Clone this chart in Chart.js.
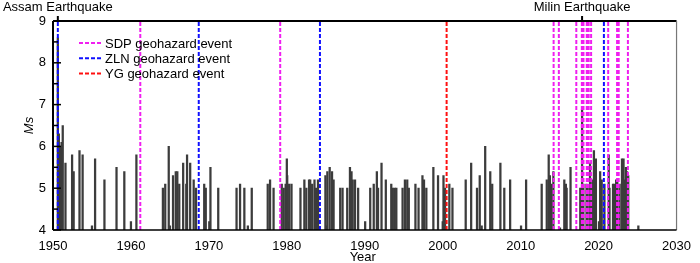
<!DOCTYPE html>
<html lang="en">
<head>
<meta charset="UTF-8">
<title>Ms earthquakes and geohazard events</title>
<script src="https://cdn.jsdelivr.net/npm/chart.js"></script>
<style>
    body { margin: 0; background: #fff; }
    .wrap { position: relative; width: 700px; height: 263px; }
</style>
</head>
<body>
<div class="wrap"><canvas id="quakeChart" width="700" height="263"></canvas></div>
<script>
// earthquake bars (year, Ms)
const quakeYears = [
    1950.62, 1950.75, 1950.85, 1950.95, 1951.1, 1951.25, 1951.6, 1952.45, 1952.65, 1953.4,
    1953.8, 1955.0, 1955.4, 1956.6, 1958.15, 1959.15, 1960.0, 1960.7, 1964.1, 1964.4,
    1964.85, 1965.0, 1965.4, 1965.75, 1965.95, 1966.2, 1966.7, 1967.1, 1967.2, 1967.6,
    1968.05, 1968.35, 1969.4, 1969.6, 1970.05, 1970.2, 1971.2, 1973.55, 1974.0, 1974.55,
    1975.0, 1975.5, 1977.55, 1977.85, 1978.3, 1979.35, 1979.6, 1979.85, 1980.0, 1980.05,
    1980.1, 1980.3, 1980.6, 1981.75, 1982.25, 1982.5, 1982.85, 1983.0, 1983.25, 1983.55,
    1983.75, 1984.0, 1984.95, 1985.1, 1985.2, 1985.5, 1985.8, 1986.0, 1986.85, 1987.15,
    1987.75, 1988.1, 1988.3, 1988.45, 1988.75, 1989.15, 1990.05, 1990.7, 1991.15, 1991.55,
    1991.7, 1992.15, 1992.7, 1993.4, 1993.6, 1993.85, 1994.05, 1994.85, 1995.15, 1995.45,
    1995.65, 1996.5, 1996.9, 1997.4, 1997.6, 1997.9, 1998.8, 1999.4, 2000.0, 2000.1,
    2000.3, 2000.85, 2001.25, 2002.95, 2003.65, 2004.4, 2004.75, 2005.0, 2005.45, 2006.1,
    2006.35, 2007.4, 2007.9, 2008.65, 2010.05, 2010.7, 2012.7, 2013.35, 2013.6, 2013.75,
    2013.95, 2014.2, 2015.05, 2015.6, 2015.8, 2015.9, 2016.4, 2017.65, 2017.88, 2018.05,
    2018.45, 2018.6, 2018.9, 2019.1, 2019.2, 2019.4, 2019.65, 2020.05, 2020.2, 2020.4,
    2020.75, 2021.3, 2021.4, 2021.85, 2022.05, 2022.25, 2022.4, 2022.7, 2023.0, 2023.2,
    2023.35, 2023.5, 2023.65, 2023.8, 2025.1
];
const quakeMs = [
    8.6, 6.3, 5.9, 6.0, 6.1, 6.5, 5.6, 5.8, 5.4, 5.9,
    5.8, 4.1, 5.7, 5.2, 5.5, 5.4, 4.2, 5.8, 5.0, 5.1,
    6.0, 4.1, 5.3, 5.4, 5.4, 5.1, 5.6, 5.1, 5.8, 5.6,
    5.2, 5.0, 5.1, 5.0, 4.2, 5.5, 5.0, 5.0, 5.1, 5.0,
    4.1, 5.0, 5.1, 5.2, 5.0, 5.1, 5.0, 5.1, 5.7, 5.3,
    4.2, 5.1, 5.1, 5.0, 5.2, 5.0, 5.2, 5.2, 5.1, 5.2,
    5.0, 5.2, 5.3, 4.1, 5.4, 5.5, 5.4, 5.2, 5.0, 5.0,
    5.0, 5.5, 5.4, 5.2, 5.2, 5.0, 4.2, 5.0, 5.1, 5.4,
    5.0, 5.6, 5.2, 5.1, 5.0, 5.0, 5.0, 5.0, 5.2, 5.2,
    5.0, 5.1, 5.0, 5.3, 5.2, 5.0, 5.5, 5.3, 4.2, 5.3,
    5.0, 5.1, 5.0, 5.2, 5.6, 5.0, 5.3, 4.1, 6.0, 5.4,
    5.1, 5.6, 5.0, 5.2, 4.1, 5.2, 5.1, 5.2, 5.8, 5.3,
    5.1, 5.4, 4.05, 5.2, 5.1, 5.0, 5.5, 5.0, 6.9, 5.1,
    5.1, 5.0, 5.6, 5.0, 5.2, 5.9, 5.7, 4.2, 5.4, 5.2,
    5.1, 5.8, 5.0, 5.1, 5.1, 5.2, 5.2, 5.1, 5.7, 5.7,
    5.2, 5.5, 5.4, 5.3, 4.1
];

// geohazard events (year)
const sdpYears = [1961.2, 1979.15, 2014.23, 2014.9, 2017.14, 2017.85, 2018.06, 2018.48, 2018.73, 2019.04, 2021.23, 2022.37, 2022.58, 2023.76];
const zlnYears = [1950.62, 1968.7, 1984.25, 2020.68];
const ygYears = [2000.5];

// labelled big earthquakes
const bigQuakeNames = ['Assam Earthquake', 'Milin Earthquake'];
const bigQuakeYears = [1950.62, 2017.88];

const yearTicks = [1950, 1960, 1970, 1980, 1990, 2000, 2010, 2020, 2030];
const msTicks = [4, 5, 6, 7, 8, 9];

const FONT = '"Liberation Sans", Arial, sans-serif';

function vlines(years) {
    const pts = [];
    years.forEach(yr => {
        pts.push({x: yr, y: 4}, {x: yr, y: 9}, {x: yr, y: null});
    });
    return pts;
}

const events = [
    {label: 'SDP geohazard event', years: sdpYears, color: '#f01ef0'},
    {label: 'ZLN geohazard event', years: zlnYears, color: '#1010ff'},
    {label: 'YG geohazard event', years: ygYears, color: '#ff1010'}
];

const lineSets = events.map(ev => ({
    type: 'line',
    label: ev.label,
    data: vlines(ev.years),
    borderColor: ev.color,
    borderWidth: 2,
    borderDash: [4, 2],
    pointRadius: 0,
    spanGaps: false,
    order: 0
}));

const framePlugin = {
    id: 'frame',
    afterDraw(chart) {
        const {ctx, chartArea: a, scales: {x, y}} = chart;
        ctx.save();
        const seg = (x1, y1, x2, y2) => { ctx.beginPath(); ctx.moveTo(x1, y1); ctx.lineTo(x2, y2); ctx.stroke(); };

        // frame
        ctx.strokeStyle = '#000';
        ctx.lineWidth = 2;
        seg(a.left, a.top, a.right, a.top);
        ctx.strokeStyle = '#777';
        ctx.lineWidth = 1.2;
        seg(a.right, a.top, a.right, a.bottom);
        ctx.strokeStyle = '#000';
        ctx.lineWidth = 1.5;
        seg(a.left, a.bottom, a.right, a.bottom);
        ctx.lineWidth = 2;
        seg(a.left, a.top, a.left, a.bottom);

        // inward y ticks, major + half steps
        ctx.lineWidth = 1.5;
        for (let v = 4; v <= 9; v += 0.5) {
            const py = y.getPixelForValue(v);
            const len = Number.isInteger(v) ? 8 : 5;
            seg(a.left, py, a.left + len, py);
        }

        // big earthquake markers + names
        ctx.fillStyle = '#000';
        ctx.font = '13px ' + FONT;
        ctx.textAlign = 'center';
        ctx.textBaseline = 'middle';
        bigQuakeYears.forEach((yr, i) => {
            const px = x.getPixelForValue(yr);
            ctx.lineWidth = 2;
            seg(px, a.top - 5, px, a.top);
            ctx.fillText(bigQuakeNames[i], Math.max(px, 56), 7);
        });

        // legend
        ctx.textAlign = 'left';
        events.forEach((ev, i) => {
            const ly = 43 + i * 15.3;
            ctx.strokeStyle = ev.color;
            ctx.lineWidth = 2;
            ctx.setLineDash([4, 2]);
            seg(79, ly, 101, ly);
            ctx.setLineDash([]);
            ctx.fillStyle = '#000';
            ctx.fillText(ev.label, 105, ly + 1);
        });

        // axis titles
        ctx.textAlign = 'center';
        ctx.fillText('Year', (a.left + a.right) / 2 - 2, 257);
        ctx.translate(29, (a.top + a.bottom) / 2);
        ctx.rotate(-Math.PI / 2);
        ctx.font = 'italic 13px ' + FONT;
        ctx.fillText('Ms', 0, 0);
        ctx.restore();
    }
};

new Chart(document.getElementById('quakeChart'), {
    type: 'bar',
    data: {
        datasets: [
            ...lineSets,
            {
                type: 'bar',
                label: 'Ms',
                data: quakeYears.map((yr, i) => ({x: yr, y: quakeMs[i]})),
                backgroundColor: '#3c3c3c',
                barThickness: 1.6,
                order: 1
            }
        ]
    },
    options: {
        responsive: false,
        animation: false,
        devicePixelRatio: 1,
        layout: {padding: {left: 0, right: 14, top: 21, bottom: 0}},
        plugins: {legend: {display: false}, tooltip: {enabled: false}},
        scales: {
            x: {
                type: 'linear',
                min: 1950,
                max: 2030,
                offset: false,
                grid: {display: false, drawTicks: false},
                border: {display: false},
                afterBuildTicks: s => { s.ticks = yearTicks.map(v => ({value: v})); },
                ticks: {color: '#000', padding: 9, maxRotation: 0, font: {size: 13, family: FONT}, callback: v => String(v)},
                afterFit: s => { s.height = 33; }
            },
            y: {
                min: 4,
                max: 9,
                grid: {display: false, drawTicks: false},
                border: {display: false},
                afterBuildTicks: s => { s.ticks = msTicks.map(v => ({value: v})); },
                ticks: {color: '#000', padding: 7, font: {size: 13, family: FONT}, callback: v => String(v)},
                afterFit: s => { s.width = 53; }
            }
        }
    },
    plugins: [framePlugin]
});
</script>
</body>
</html>
